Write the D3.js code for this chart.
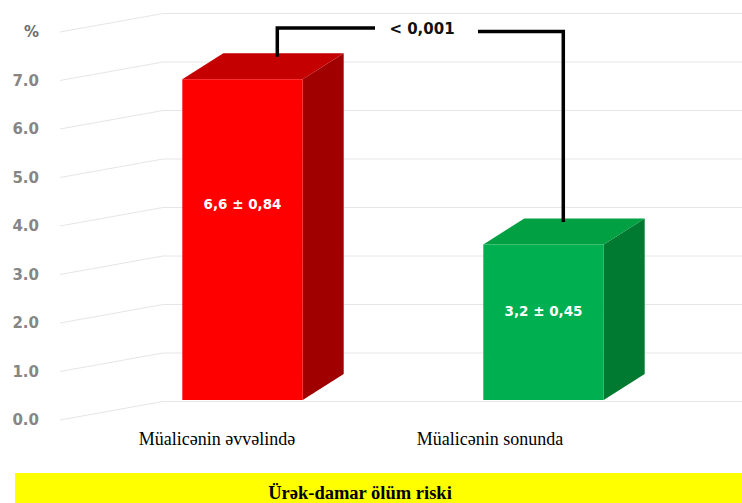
<!DOCTYPE html>
<html>
<head>
<meta charset="utf-8">
<script src="https://cdn.jsdelivr.net/npm/d3@7"></script>
<style>
  html, body { margin: 0; padding: 0; background: #ffffff; }
  svg { display: block; }
</style>
</head>
<body>
<svg id="chart" width="742" height="503"></svg>
<script>
// ---- data ----
const categories = ["Müalicənin əvvəlində", "Müalicənin sonunda"];
const values = [6.6, 3.2];
const valueLabels = ["6,6 ± 0,84", "3,2 ± 0,45"];
const yTicks = [0, 1, 2, 3, 4, 5, 6, 7];
const yUnit = "%";
const pValue = "< 0,001";
const title = "Ürək-damar ölüm riski";

// ---- layout ----
const W = 742, H = 503;
const depth = { dx: 41, dy: -26 };          // 3D offset of bar top/side faces
const wall = { x0: 60, x1: 163, dy: -18.5 }; // side wall of the plot box
const labelFrac = [0.61, 0.57];             // vertical spot of value labels in the bars
const bracketOffset = [95, 80];             // bracket anchor inside each bar top

const fills = [
  { front: "#ff0000", top: "#c40000", side: "#a00000" },
  { front: "#00b050", top: "#00a043", side: "#007a30" }
];

const svg = d3.select("#chart");

// scales
const yAxisScale = d3.scaleLinear().domain([0, 8]).range([420, 32]);
const yBar = d3.scaleLinear().domain([0, 8]).range([400, 11.2]);
const x = d3.scaleBand().domain(categories).range([92, 694])
  .paddingInner(0.6).paddingOuter(0.3);
const xLabel = d3.scalePoint().domain(categories).range([217, 490]);

// ---- grid lines: side wall diagonals + back wall horizontals ----
const gridVals = d3.range(0, 9);
const grid = svg.append("g").attr("fill", "none").attr("stroke", "#e6e6e6").attr("stroke-width", 1);
grid.selectAll("path").data(gridVals).join("path")
  .attr("d", v => {
    const yf = yAxisScale(v), yb = yf + wall.dy;
    return `M${wall.x0},${yf}L${wall.x1},${yb}L${W},${yb}`;
  });

// ---- y axis labels ----
const axisFont = "'DejaVu Sans', sans-serif";
svg.append("g").selectAll("text").data(yTicks).join("text")
  .attr("x", 39).attr("y", d => yAxisScale(d)).attr("dy", "0.35em")
  .attr("text-anchor", "end")
  .attr("font-family", axisFont).attr("font-weight", "bold").attr("font-size", 15)
  .attr("fill", "#868686")
  .text(d => d.toFixed(1));
svg.append("text")
  .attr("x", 39).attr("y", yAxisScale(8)).attr("dy", "0.35em")
  .attr("text-anchor", "end")
  .attr("font-family", axisFont).attr("font-weight", "bold").attr("font-size", 15)
  .attr("fill", "#6e6e6e")
  .text(yUnit);

// ---- 3D bars ----
const bars = svg.append("g").selectAll("g").data(values).join("g");
bars.each(function (v, i) {
  const g = d3.select(this);
  const x0 = x(categories[i]), x1 = x0 + x.bandwidth();
  const y0 = yBar(0), y1 = yBar(v);
  const { dx, dy } = depth;
  // side face
  g.append("path")
    .attr("d", `M${x1},${y1}L${x1 + dx},${y1 + dy}L${x1 + dx},${y0 + dy}L${x1},${y0}Z`)
    .attr("fill", fills[i].side);
  // top face
  g.append("path")
    .attr("d", `M${x0},${y1}L${x0 + dx},${y1 + dy}L${x1 + dx},${y1 + dy}L${x1},${y1}Z`)
    .attr("fill", fills[i].top);
  // front face
  g.append("rect")
    .attr("x", x0).attr("y", y1).attr("width", x1 - x0).attr("height", y0 - y1)
    .attr("fill", fills[i].front);
  // value label
  g.append("text")
    .attr("x", (x0 + x1) / 2).attr("y", yBar(v * labelFrac[i])).attr("dy", "0.35em")
    .attr("text-anchor", "middle")
    .attr("font-family", axisFont).attr("font-weight", "bold").attr("font-size", 13.5)
    .attr("fill", "#ffffff")
    .text(valueLabels[i]);
});

// ---- significance bracket ----
const bx = values.map((v, i) => x(categories[i]) + bracketOffset[i]);
const by = values.map(v => yBar(v) + depth.dy + 3.5);
const pX = 422;
const bracket = svg.append("g").attr("fill", "none").attr("stroke", "#000")
  .attr("stroke-width", 3.5).attr("stroke-linejoin", "miter");
bracket.append("path").attr("d", `M${bx[0]},${by[0]}L${bx[0]},28L${pX - 47},28`);
bracket.append("path").attr("d", `M${pX + 56},31.5L${bx[1]},31.5L${bx[1]},${by[1]}`);
svg.append("text")
  .attr("x", pX).attr("y", 29).attr("dy", "0.35em")
  .attr("text-anchor", "middle")
  .attr("font-family", axisFont).attr("font-weight", "bold").attr("font-size", 15)
  .attr("fill", "#111")
  .text(pValue);

// ---- category labels ----
svg.append("g").selectAll("text").data(categories).join("text")
  .attr("x", d => xLabel(d)).attr("y", 445)
  .attr("text-anchor", "middle")
  .attr("font-family", "'Liberation Serif', 'Times New Roman', serif")
  .attr("font-size", 18).attr("fill", "#000")
  .text(d => d);

// ---- title banner ----
svg.append("rect").attr("x", 15).attr("y", 473).attr("width", W - 15).attr("height", H - 473)
  .attr("fill", "#ffff00");
svg.append("text")
  .attr("x", 360).attr("y", 499)
  .attr("text-anchor", "middle")
  .attr("font-family", "'Liberation Serif', 'Times New Roman', serif")
  .attr("font-weight", "bold").attr("font-size", 18.5).attr("fill", "#000")
  .text(title);
</script>
</body>
</html>
